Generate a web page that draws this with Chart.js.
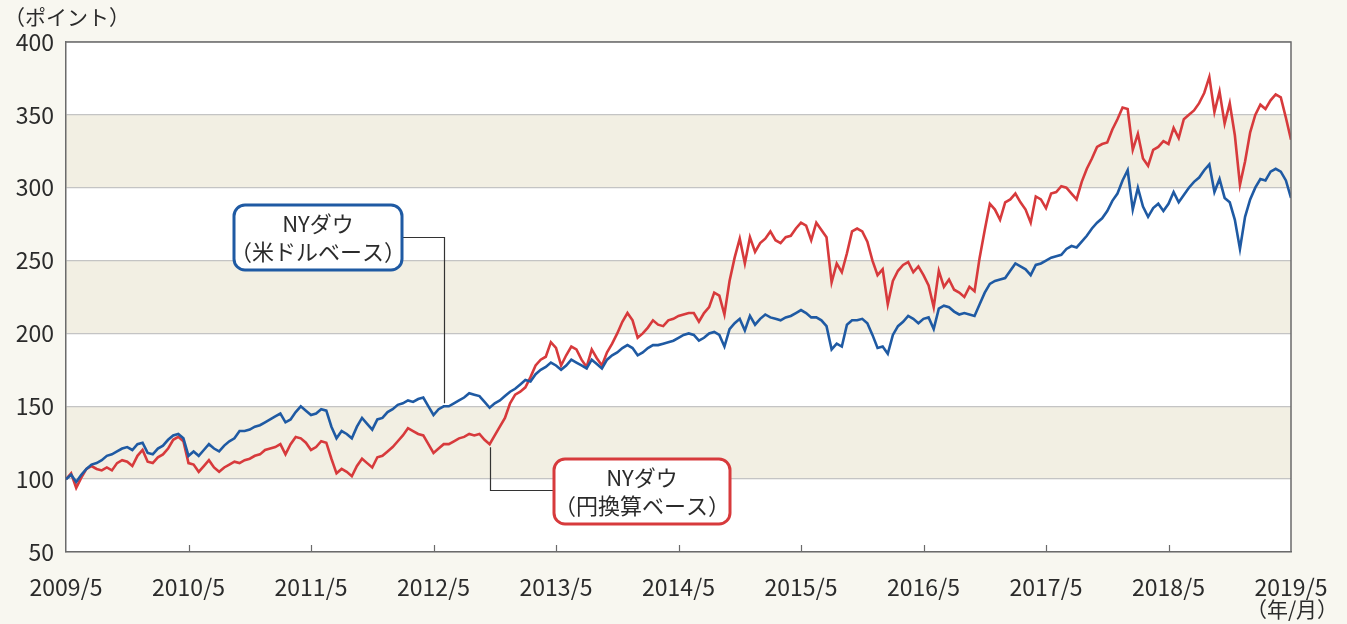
<!DOCTYPE html>
<html><head><meta charset="utf-8">
<script src="https://cdn.jsdelivr.net/npm/chart.js@4.4.1/dist/chart.umd.min.js"></script>
<style>
html,body{margin:0;padding:0;background:#f8f7f0;}
#wrap{position:relative;width:1347px;height:624px;}
</style></head><body>
<div id="wrap"><canvas id="c" width="1347" height="624"></canvas></div>
<script>
// ---- data ----
const tickLabels = ['2009/5','2010/5','2011/5','2012/5','2013/5','2014/5','2015/5','2016/5','2017/5','2018/5','2019/5'];
const yTicks = [50,100,150,200,250,300,350,400];
const bands = [[100,150],[200,250],[300,350]];
const seriesNames = ['NYダウ（米ドルベース）','NYダウ（円換算ベース）'];
const monthStep = 0.5; // one value every half month, from 2009/5
const usd = [
100,103,98,103,107,110,111,113,116,117,
119,121,122,120,124,125,118,117,121,123,
127,130,131,128,116,119,116,120,124,121,
119,123,126,128,133,133,134,136,137,139,
141,143,145,139,141,146,150,147,144,145,
148,147,136,128,133,131,128,136,142,138,
134,141,142,146,148,151,152,154,153,155,
156,150,144,148,150,150,152,154,156,159,
158,157,153,149,152,154,157,160,162,165,
168,167,172,175,177,180,178,175,178,182,
180,178,176,182,179,176,182,185,187,190,
192,190,185,187,190,192,192,193,194,195,
197,199,200,199,195,197,200,201,199,191,
203,207,210,202,212,206,210,213,211,210,
209,211,212,214,216,214,211,211,209,205,
189,193,191,206,209,209,210,207,199,190,
191,186,199,205,208,212,210,207,210,211,
203,217,219,218,215,213,214,213,212,220,
228,234,236,237,238,243,248,246,244,240,
247,248,250,252,253,254,258,260,259,263,
267,272,276,279,284,291,296,305,312,285,
300,287,280,286,289,284,289,297,290,295,
300,304,307,312,316,297,306,293,290,278,
258,280,292,300,306,305,311,313,311,305,
293];
const jpy = [
100,104,94,101,107,109,107,106,108,106,
111,113,112,109,116,120,112,111,115,117,
121,127,129,126,111,110,105,109,113,108,
105,108,110,112,111,113,114,116,117,120,
121,122,124,117,124,129,128,125,120,122,
126,125,114,104,107,105,102,109,114,111,
108,115,116,119,122,126,130,135,133,131,
130,124,118,121,124,124,126,128,129,131,
130,131,127,124,130,136,142,152,158,160,
163,170,178,182,184,194,190,178,185,191,
189,182,177,189,183,178,187,193,200,208,
214,209,197,200,204,209,206,205,209,210,
212,213,214,214,208,214,218,228,226,213,
236,252,265,248,266,256,262,265,270,264,
262,266,267,272,276,274,264,276,271,266,
235,248,242,255,270,272,270,263,250,240,
244,220,236,243,247,249,242,246,240,233,
218,243,232,237,230,228,225,232,229,252,
271,289,285,278,290,292,296,290,285,276,
294,292,286,296,297,301,300,296,292,304,
313,320,328,330,331,340,347,355,354,326,
337,320,315,326,328,332,330,341,334,347,
350,353,358,365,376,352,366,344,358,336,
302,318,338,350,357,354,360,364,362,348,
333];
// label anchors (index into the series)
const usdLabelIdx = 74;
const jpyLabelIdx = 83;

// ---- styles ----
const BLUE = '#1f5aa3';
const RED = '#d73a3c';
const TXT = '#2b2b2b';
const FONT = "'Noto Sans CJK JP','Noto Sans',sans-serif";

function pts(arr){ return arr.map((v,i)=>({x:i*monthStep, y:v})); }

const decor = {
  id:'decor',
  beforeDraw(chart){
    const {ctx, chartArea:a, scales:{y}} = chart;
    ctx.save();
    ctx.fillStyle = '#ffffff';
    ctx.fillRect(a.left, a.top, a.right-a.left, a.bottom-a.top);
    ctx.fillStyle = '#f2efe3';
    bands.forEach(([lo,hi])=>{
      const y1 = y.getPixelForValue(hi), y2 = y.getPixelForValue(lo);
      ctx.fillRect(a.left, y1, a.right-a.left, y2-y1);
    });
    ctx.restore();
  },
  afterDatasetsDraw(chart){
    const {ctx, chartArea:a, scales:{x,y}} = chart;
    ctx.save();
    // frame
    ctx.strokeStyle = '#6b6b6b';
    ctx.lineWidth = 1.5;
    ctx.beginPath();
    ctx.moveTo(a.left, a.top); ctx.lineTo(a.right, a.top); ctx.lineTo(a.right, a.bottom);
    ctx.stroke();
    // x tick marks (inside)
    ctx.lineWidth = 1.2;
    ctx.beginPath();
    for (let i=1;i<tickLabels.length-1;i++){
      const px = Math.round(x.getPixelForValue(i*12))+0.5;
      ctx.moveTo(px, a.bottom); ctx.lineTo(px, a.bottom-7);
    }
    ctx.stroke();
    // unit labels
    ctx.fillStyle = TXT;
    ctx.font = '21px ' + FONT;
    ctx.textBaseline = 'middle';
    ctx.textAlign = 'left';
    ctx.fillText('（ポイント）', 4, 17);
    ctx.textAlign = 'center';
    ctx.fillText('（年/月）', a.right+1, 609);

    // connectors
    ctx.strokeStyle = '#333';
    ctx.lineWidth = 1.2;
    const bx = Math.round(x.getPixelForValue(usdLabelIdx*monthStep))+0.5;
    const by = y.getPixelForValue(usd[usdLabelIdx]) - 3;
    ctx.beginPath();
    ctx.moveTo(402, 237.5); ctx.lineTo(bx, 237.5); ctx.lineTo(bx, by);
    ctx.stroke();
    const rx = Math.round(x.getPixelForValue(jpyLabelIdx*monthStep))+0.5;
    const ry = y.getPixelForValue(jpy[jpyLabelIdx]) + 3;
    ctx.beginPath();
    ctx.moveTo(553, 490.5); ctx.lineTo(rx, 490.5); ctx.lineTo(rx, ry);
    ctx.stroke();

    // boxes
    function box(x0,y0,w,h,color,l1,l2){
      ctx.beginPath();
      ctx.roundRect(x0,y0,w,h,11);
      ctx.fillStyle = '#fff';
      ctx.fill();
      ctx.lineWidth = 3;
      ctx.strokeStyle = color;
      ctx.stroke();
      ctx.fillStyle = TXT;
      ctx.font = '22px ' + FONT;
      ctx.textAlign = 'center';
      ctx.textBaseline = 'middle';
      ctx.fillText(l1, x0+w/2, y0+h*0.29);
      ctx.fillText(l2, x0+w/2, y0+h*0.72);
    }
    box(234,205,168,65,BLUE,'NYダウ','（米ドルベース）');
    box(554,459,176,65,RED,'NYダウ','（円換算ベース）');
    ctx.restore();
  }
};

new Chart(document.getElementById('c'), {
  type:'line',
  data:{
    datasets:[
      {label:seriesNames[0], data:pts(usd), borderColor:BLUE, borderWidth:2.6, pointRadius:0, tension:0},
      {label:seriesNames[1], data:pts(jpy), borderColor:RED, borderWidth:2.6, pointRadius:0, tension:0}
    ]
  },
  options:{
    responsive:false,
    devicePixelRatio:1,
    animation:false,
    layout:{padding:{top:42,right:56,left:0,bottom:0}},
    plugins:{legend:{display:false}, tooltip:{enabled:false}},
    scales:{
      x:{
        type:'linear', min:0, max:120,
        afterBuildTicks(s){ s.ticks = tickLabels.map((t,i)=>({value:i*12})); },
        afterFit(s){ s.height = 72; s.paddingLeft = 0; s.paddingRight = 0; },
        grid:{display:true, drawOnChartArea:false, drawTicks:false},
        border:{display:true, color:'#6b6b6b', width:1.5},
        ticks:{
          autoSkip:false, maxRotation:0, padding:21, color:TXT,
          font:{family:FONT, size:23},
          callback:(v)=>tickLabels[Math.round(v/12)]
        }
      },
      y:{
        min:50, max:400,
        afterBuildTicks(s){ s.ticks = yTicks.map(v=>({value:v})); },
        afterFit(s){ s.width = 66; s.paddingTop = 0; s.paddingBottom = 0; },
        grid:{color:'#c4c4c4', lineWidth:1.3, drawTicks:false},
        border:{display:true, color:'#6b6b6b', width:1.5},
        ticks:{padding:12, color:TXT, font:{family:FONT, size:23}}
      }
    }
  },
  plugins:[decor]
});
</script>
</body></html>
